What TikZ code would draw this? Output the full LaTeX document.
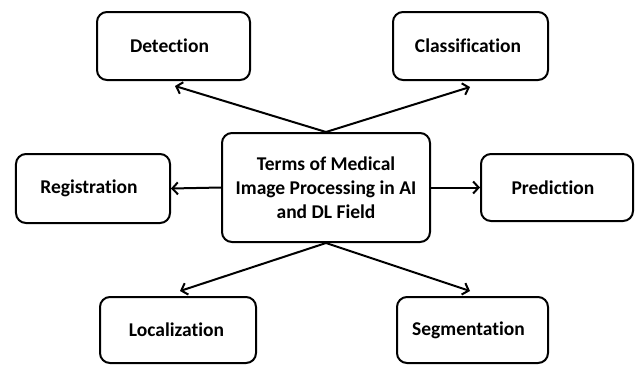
\documentclass[tikz,border=0pt]{standalone}
\usepackage{fontspec}
\setmainfont[Ligatures=NoCommon]{Carlito}
\usetikzlibrary{arrows.meta,calc}
\begin{document}
\begin{tikzpicture}[x=1bp,y=-1bp,
  box/.style={draw=black,line width=2bp,rounded corners=10bp,fill=white,
    align=center,inner sep=0pt,font=\fontsize{19.5bp}{24bp}\selectfont\bfseries,text=black},
  arr/.style={line width=2bp,-{Straight Barb[length=5.5bp,width=12bp,line width=2bp]}}]
\useasboundingbox (0,0) rectangle (636,365);
\node[box,minimum width=153bp,minimum height=68bp] (det) at (173.5,46) {Detection\hspace*{8bp}};
\node[box,minimum width=155bp,minimum height=68bp] (cls) at (470.5,46) {Classification\hspace*{5bp}};
\node[box,minimum width=154bp,minimum height=69bp] (reg) at (93,188.5) {Registration\hspace*{8bp}};
\node[box,minimum width=208bp,minimum height=109bp] (c) at (326,187.5) {Terms of Medical\\Image Processing in AI\\and DL Field};
\node[box,minimum width=152bp,minimum height=67bp] (pred) at (557,187.5) {Prediction\hspace*{8bp}};
\node[box,minimum width=156bp,minimum height=66bp] (loc) at (178,330) {Localization\hspace*{3bp}};
\node[box,minimum width=151bp,minimum height=66bp] (seg) at (472.5,330) {Segmentation\hspace*{8bp}};
\coordinate (tdet) at ($(det.south)+(1.5,5)$);
\coordinate (tcls) at ($(cls.south)+(-0.5,6)$);
\coordinate (tloc) at ($(loc.north)+(2,-5)$);
\coordinate (tseg) at ($(seg.north)+(-2.5,-5)$);
\draw[arr] (c.north) -- (tdet);
\draw[arr] (c.north) -- (tcls);
\draw[arr] (c.south) -- (tloc);
\draw[arr] (c.south) -- (tseg);
\draw[arr] (c.west) -- (reg.east);
\draw[arr] (c.east) -- (pred.west);
\end{tikzpicture}
\end{document}
